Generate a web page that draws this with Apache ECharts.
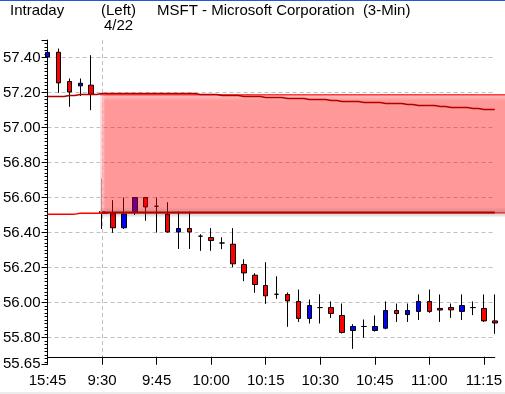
<!DOCTYPE html>
<html>
<head>
<meta charset="utf-8">
<script src="https://cdn.jsdelivr.net/npm/echarts@6/dist/echarts.min.js"></script>
<style>
  html, body { margin: 0; padding: 0; background: #fff; }
  #chart { width: 505px; height: 394px; }
</style>
</head>
<body>
<div id="chart"></div>
<script>
// 3-minute bars, previous close then 4/22 session
const times = ['15:45', '15:48', '15:51', '15:54', '15:57',
  '9:30', '9:33', '9:36', '9:39', '9:42', '9:45', '9:48', '9:51', '9:54', '9:57',
  '10:00', '10:03', '10:06', '10:09', '10:12', '10:15', '10:18', '10:21', '10:24', '10:27',
  '10:30', '10:33', '10:36', '10:39', '10:42', '10:45', '10:48', '10:51', '10:54', '10:57',
  '11:00', '11:03', '11:06', '11:09', '11:12', '11:15', '11:18'];

const openP = [57.403, 57.430, 57.263, 57.238, 57.242,
  56.520, 56.510, 56.427, 56.516, 56.600, 56.550, 56.505, 56.403, 56.423, 56.379,
  56.371, 56.340, 56.333, 56.217, 56.156, 56.097, 56.047, 56.046, 56.006, 55.909,
  55.971, 55.971, 55.926, 55.840, 55.863, 55.840, 55.853, 55.954, 55.931, 55.949,
  56.006, 55.966, 55.971, 55.949, 55.971, 55.966, 55.895];
const closeP = [57.429, 57.255, 57.203, 57.253, 57.190,
  56.510, 56.427, 56.506, 56.600, 56.546, 56.550, 56.403, 56.423, 56.403, 56.379,
  56.354, 56.340, 56.221, 56.169, 56.103, 56.038, 56.047, 56.009, 55.909, 55.983,
  55.971, 55.937, 55.829, 55.863, 55.863, 55.863, 55.954, 55.937, 55.954, 56.006,
  55.949, 55.957, 55.958, 55.983, 55.971, 55.895, 55.883];
const lowP = [57.381, 57.198, 57.118, 57.180, 57.099,
  56.420, 56.398, 56.420, 56.500, 56.467, 56.400, 56.400, 56.306, 56.306, 56.295,
  56.295, 56.305, 56.202, 56.122, 56.055, 55.992, 56.021, 55.861, 55.889, 55.880,
  55.880, 55.912, 55.823, 55.735, 55.798, 55.834, 55.847, 55.889, 55.889, 55.900,
  55.941, 55.889, 55.912, 55.900, 55.928, 55.889, 55.821];
const highP = [57.451, 57.451, 57.280, 57.280, 57.413,
  56.710, 56.585, 56.600, 56.600, 56.600, 56.600, 56.573, 56.520, 56.520, 56.390,
  56.425, 56.373, 56.425, 56.247, 56.167, 56.230, 56.150, 56.057, 56.074, 56.017,
  56.047, 56.006, 55.994, 55.876, 55.903, 55.926, 56.006, 55.994, 55.994, 56.046,
  56.074, 56.046, 55.994, 56.046, 56.006, 56.046, 56.046];

// band lines
const upperLine = [57.177, 57.177, 57.183, 57.189, 57.189,
  57.194, 57.194, 57.194, 57.194, 57.194, 57.194, 57.194, 57.194, 57.194, 57.189,
  57.189, 57.183, 57.183, 57.177, 57.177, 57.171, 57.171, 57.166, 57.166, 57.160,
  57.160, 57.154, 57.149, 57.149, 57.143, 57.143, 57.137, 57.137, 57.131, 57.126,
  57.126, 57.120, 57.114, 57.114, 57.109, 57.103, 57.103];
const lowerPrev = [56.505, 56.505, 56.505, 56.510, 56.510, 56.510];
const lowerCur = 56.514;

// shaded zone from the open onward
const zoneStart = '9:30';
const zoneTop = 57.187;
const zoneBottom = 56.512;

const yLabels = ['57.40', '57.20', '57.00', '56.80', '56.60', '56.40', '56.20', '56.00', '55.80', '55.65'];

const FONT = 'Liberation Sans, Arial, sans-serif';

const candles = times.map((t, i) => [openP[i], closeP[i], lowP[i], highP[i]]);
const zoneIdx = times.indexOf(zoneStart);
const lowerLeft = times.map((t, i) => (i < lowerPrev.length ? lowerPrev[i] : '-'));
const lowerRight = times.map((t, i) => (i >= zoneIdx ? lowerCur : '-'));

const chart = echarts.init(document.getElementById('chart'), null, { renderer: 'canvas' });

const option = {
  animation: false,
  backgroundColor: '#fff',
  textStyle: { fontFamily: FONT },
  grid: { left: 44, right: 10, top: 40, bottom: 30.25 },
  graphic: [
    { type: 'rect', left: 0, top: 0, shape: { width: 505, height: 1 }, style: { fill: '#1e5adc' } },
    { type: 'rect', left: 0, top: 392, shape: { width: 505, height: 2 }, style: { fill: '#ececec' } },
    { type: 'text', left: 10, top: 3, style: { text: 'Intraday', font: '15px ' + FONT, fill: '#000' } },
    { type: 'text', left: 101, top: 3, style: { text: '(Left)', font: '15px ' + FONT, fill: '#000' } },
    { type: 'text', left: 104, top: 18, style: { text: '4/22', font: '15px ' + FONT, fill: '#000' } },
    { type: 'text', left: 157, top: 3, style: { text: 'MSFT - Microsoft Corporation  (3-Min)', font: '15px ' + FONT, fill: '#000' } }
  ],
  xAxis: {
    type: 'category',
    data: times,
    boundaryGap: false,
    offset: -7,
    axisLine: { show: true, lineStyle: { color: '#000', width: 1 } },
    axisTick: { show: true, interval: 4, length: 8, lineStyle: { color: '#000' } },
    axisLabel: { interval: 4, margin: 17, color: '#000', fontSize: 15, fontFamily: FONT },
    splitLine: {
      show: true,
      interval: (idx) => idx === zoneIdx,
      lineStyle: { color: '#c0c0c0', type: [4, 3] }
    }
  },
  yAxis: {
    type: 'value',
    min: 55.65,
    max: 57.50,
    minInterval: 0.2,
    maxInterval: 0.2,
    splitNumber: 9,
    axisLine: { show: true, lineStyle: { color: '#000', width: 1 } },
    axisTick: { show: true, length: 6, lineStyle: { color: '#000' } },
    minorTick: { show: true, splitNumber: 10, length: 3, lineStyle: { color: '#000' } },
    axisLabel: {
      color: '#000', fontSize: 15, fontFamily: FONT, margin: 7,
      showMaxLabel: false,
      formatter: (v) => {
        const s = v.toFixed(2);
        return yLabels.indexOf(s) >= 0 ? s : '';
      }
    },
    splitLine: {
      show: true, showMinLine: false, showMaxLine: false,
      lineStyle: { color: '#c0c0c0', type: [4, 3] }
    }
  },
  series: [
    {
      type: 'candlestick',
      name: 'MSFT',
      data: candles,
      barWidth: 5,
      z: 2,
      clip: true,
      itemStyle: {
        color: '#0000ff',
        color0: '#ff0000',
        borderColor: '#000',
        borderColor0: '#000',
        borderColorDoji: '#000',
        borderWidth: 1
      }
    },
    {
      type: 'custom',
      name: 'zone',
      z: 3,
      silent: true,
      clip: false,
      data: [[zoneIdx, zoneTop, zoneBottom]],
      renderItem: function (params, api) {
        const p1 = api.coord([api.value(0), api.value(1)]);
        const p2 = api.coord([api.value(0), api.value(2)]);
        const x0 = p1[0] - 2;
        const w = api.getWidth() - x0;
        const h = p2[1] - p1[1];
        return {
          type: 'group',
          children: [
            {
              type: 'rect',
              shape: { x: x0, y: p1[1], width: w, height: h },
              style: { fill: 'rgba(255,0,0,0.4)' }
            },
            // soft edges like the original
            {
              type: 'rect',
              shape: { x: x0, y: p1[1], width: 5, height: h },
              style: {
                fill: new echarts.graphic.LinearGradient(0, 0, 1, 0, [
                  { offset: 0, color: 'rgba(255,255,255,0.8)' },
                  { offset: 1, color: 'rgba(255,255,255,0)' }
                ])
              }
            },
            {
              type: 'rect',
              shape: { x: x0, y: p1[1] + 1, width: w, height: 5 },
              style: {
                fill: new echarts.graphic.LinearGradient(0, 0, 0, 1, [
                  { offset: 0, color: 'rgba(255,255,255,0.35)' },
                  { offset: 1, color: 'rgba(255,255,255,0)' }
                ])
              }
            },
            {
              type: 'rect',
              shape: { x: x0, y: p2[1] - 6, width: w, height: 6 },
              style: {
                fill: new echarts.graphic.LinearGradient(0, 0, 0, 1, [
                  { offset: 0, color: 'rgba(90,90,90,0)' },
                  { offset: 1, color: 'rgba(90,90,90,0.25)' }
                ])
              }
            },
            {
              type: 'rect',
              shape: { x: x0 + 2, y: p2[1], width: w, height: 5 },
              style: {
                fill: new echarts.graphic.LinearGradient(0, 0, 0, 1, [
                  { offset: 0, color: 'rgba(0,0,0,0.22)' },
                  { offset: 1, color: 'rgba(0,0,0,0)' }
                ])
              }
            },
            { type: 'line', shape: { x1: x0, y1: p1[1], x2: x0 + w, y2: p1[1] }, style: { stroke: '#ff0000', lineWidth: 1 } },
            { type: 'line', shape: { x1: x0, y1: p2[1], x2: x0 + w, y2: p2[1] }, style: { stroke: '#ff0000', lineWidth: 1 } }
          ]
        };
      }
    },
    {
      type: 'line',
      name: 'upper',
      data: upperLine,
      step: 'middle',
      showSymbol: false,
      z: 4,
      lineStyle: { color: '#b00000', width: 1.5 }
    },
    {
      type: 'line',
      name: 'lowerPrev',
      data: lowerLeft,
      step: 'middle',
      showSymbol: false,
      z: 4,
      lineStyle: { color: '#ff0000', width: 1.5 }
    },
    {
      type: 'line',
      name: 'lowerCur',
      data: lowerRight,
      showSymbol: false,
      z: 4,
      lineStyle: { color: '#b00000', width: 2 }
    }
  ]
};

chart.setOption(option);
</script>
</body>
</html>
